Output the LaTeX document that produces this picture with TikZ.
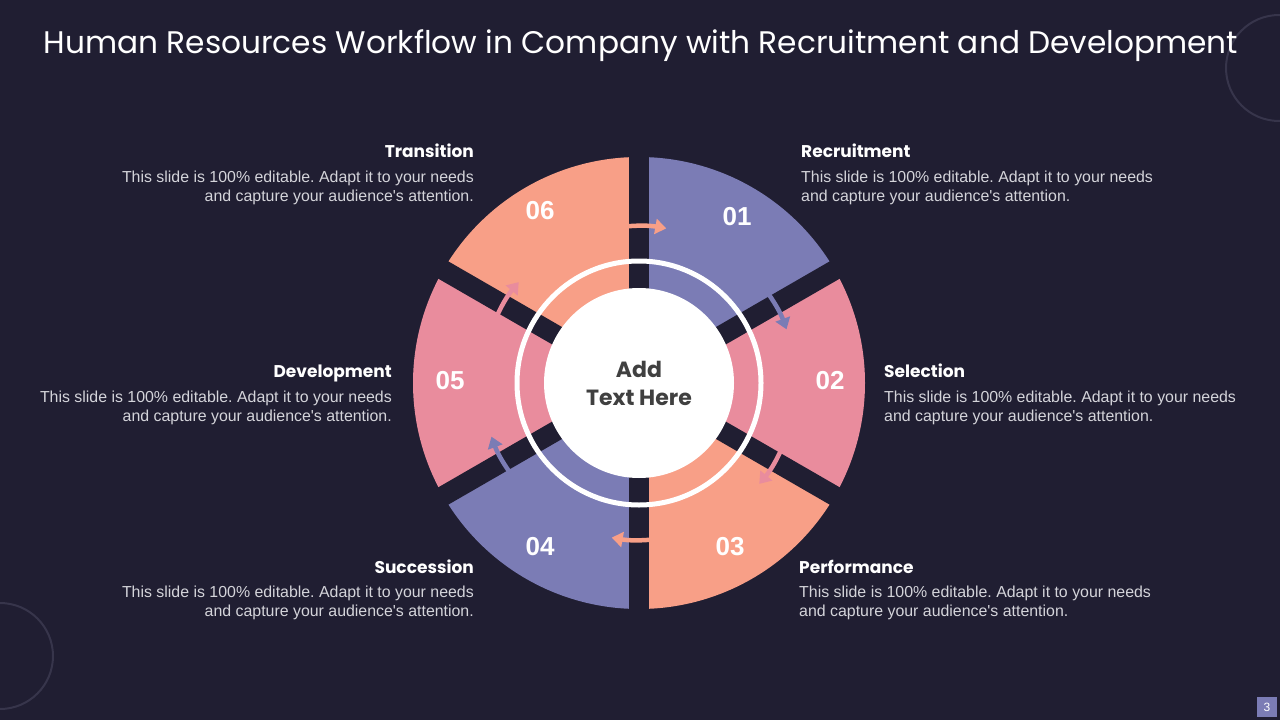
\documentclass[tikz,border=0pt]{standalone}
\usepackage{fontspec}
\setmainfont{Liberation Sans}
\newfontfamily\pop{Poppins}
\usetikzlibrary{arrows.meta}
\definecolor{bg}{HTML}{201E32}
\definecolor{segblue}{HTML}{7B7CB5}
\definecolor{segpink}{HTML}{E98C9D}
\definecolor{segsalmon}{HTML}{F89F87}
\definecolor{bodygray}{HTML}{D4D4DA}
\definecolor{deco}{HTML}{37354B}
\definecolor{centertext}{HTML}{404040}
\frenchspacing
\newcommand{\bodytext}{This slide is 100\% editable. Adapt it to your needs\\and capture your audience\textquotesingle s attention.}
\begin{document}
\begin{tikzpicture}[x=1pt,y=-1pt,
  heading/.style={font=\pop\bfseries\fontsize{17}{20}\selectfont, text=white, inner sep=0pt},
  body/.style={font=\fontsize{15.9}{19}\selectfont, text=bodygray, inner sep=0pt},
  num/.style={font=\bfseries\fontsize{26}{30}\selectfont, text=white, inner sep=0pt},
  flow/.style={line width=4.5pt, -{Triangle[length=11pt,width=15pt]}},
]
\fill[bg] (0,0) rectangle (1280,720);
\useasboundingbox (0,0) rectangle (1280,720);
\draw[deco, line width=2pt] (1279,68) circle (53);
\draw[deco, line width=2pt] (0,656) circle (53);

\node[anchor=base, font=\pop\fontsize{31.2}{36}\selectfont, text=white, inner sep=0pt] (title) at (641,53)
  {Human Resources Workflow in Company with Recruitment and Development};

\coordinate (C) at (639,383);
\begin{scope}[shift={(C)}, y=1pt]
  \fill[segblue] (0,0) -- (30:226) arc[start angle=30,end angle=90,radius=226] -- cycle;
  \fill[segpink] (0,0) -- (-30:226) arc[start angle=-30,end angle=30,radius=226] -- cycle;
  \fill[segsalmon] (0,0) -- (-90:226) arc[start angle=-90,end angle=-30,radius=226] -- cycle;
  \fill[segblue] (0,0) -- (-150:226) arc[start angle=-150,end angle=-90,radius=226] -- cycle;
  \fill[segpink] (0,0) -- (150:226) arc[start angle=150,end angle=210,radius=226] -- cycle;
  \fill[segsalmon] (0,0) -- (90:226) arc[start angle=90,end angle=150,radius=226] -- cycle;
  \foreach \a in {90,30,-30,-90,-150,150}
    \fill[bg, rotate=\a] (0,-10) rectangle (235,10);
  \draw[white, line width=5pt] (0,0) circle (122);
  \fill[white] (0,0) circle (95);
  \draw[flow, segsalmon] (102:157) arc[start angle=102,end angle=80,radius=157];
  \draw[flow, segblue] (42:157) arc[start angle=42,end angle=20,radius=157];
  \draw[flow, segpink] (-18:157) arc[start angle=-18,end angle=-40,radius=157];
  \draw[flow, segsalmon] (-78:157) arc[start angle=-78,end angle=-100,radius=157];
  \draw[flow, segblue] (-138:157) arc[start angle=-138,end angle=-160,radius=157];
  \draw[flow, segpink] (162:157) arc[start angle=162,end angle=140,radius=157];
  \node[align=center, font=\pop\bfseries\fontsize{22}{28}\selectfont, text=centertext, inner sep=0pt] (center) at (0,0) {Add\\Text Here};
\end{scope}

\node[num] (n1) at (737,217) {01};
\node[num] (n2) at (830,381) {02};
\node[num] (n3) at (730,547) {03};
\node[num] (n4) at (540,547) {04};
\node[num] (n5) at (450,381) {05};
\node[num] (n6) at (540,211) {06};

\node[heading, anchor=base west] (h1) at (801,157) {Recruitment};
\node[body, anchor=north west, align=left] (b1) at (801,171) {\bodytext};
\node[heading, anchor=base west] (h2) at (884,377) {Selection};
\node[body, anchor=north west, align=left] (b2) at (884,391) {\bodytext};
\node[heading, anchor=base west] (h3) at (799,573) {Performance};
\node[body, anchor=north west, align=left] (b3) at (799,586) {\bodytext};
\node[heading, anchor=base east] (h6) at (474,157) {Transition};
\node[body, anchor=north east, align=right] (b6) at (474,171) {\bodytext};
\node[heading, anchor=base east] (h5) at (392,377) {Development};
\node[body, anchor=north east, align=right] (b5) at (392,391) {\bodytext};
\node[heading, anchor=base east] (h4) at (474,573) {Succession};
\node[body, anchor=north east, align=right] (b4) at (474,586) {\bodytext};

\fill[segblue] (1257,697) rectangle (1277,717);
\node[text=white, font=\fontsize{12}{14}\selectfont, inner sep=0pt] (pg) at (1267,707) {3};
\end{tikzpicture}
\end{document}
